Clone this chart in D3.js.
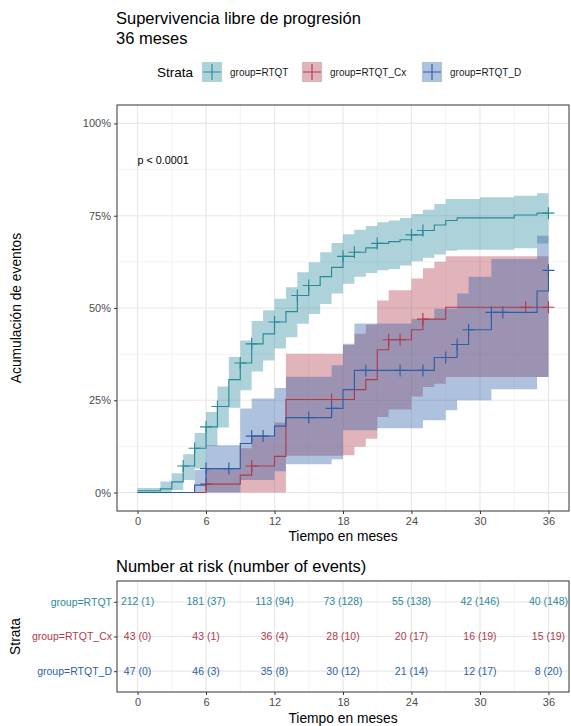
<!DOCTYPE html>
<html>
<head>
<meta charset="utf-8">
<script src="https://cdn.jsdelivr.net/npm/d3@7"></script>
<style>
  body { margin: 0; background: #fff; }
  svg { display: block; font-family: "Liberation Sans", Arial, sans-serif; }
</style>
</head>
<body>
<svg id="chart" width="571" height="726"></svg>
<script>
// ####################################################################################
// Data
var groups = ["group=RTQT", "group=RTQT_Cx", "group=RTQT_D"];
var groupColors = ["#2b8a9a", "#b03a4c", "#2d5fa6"];

// RTQT
var rtqtTime  = [0, 2, 3, 4, 5, 6, 7, 8, 9, 10, 11, 12, 13, 14, 15, 16, 17, 18, 19, 20, 21, 22, 23, 24, 25, 26, 27, 28, 30, 33, 35];
var rtqtEst   = [0.005, 0.01, 0.029, 0.072, 0.12, 0.178, 0.233, 0.306, 0.351, 0.403, 0.43, 0.462, 0.49, 0.534, 0.561, 0.585, 0.61, 0.64, 0.651, 0.663, 0.675, 0.68, 0.685, 0.698, 0.71, 0.725, 0.737, 0.744, 0.744, 0.752, 0.757];
var rtqtLower = [0, 0, 0.007, 0.034, 0.065, 0.126, 0.176, 0.23, 0.277, 0.328, 0.358, 0.39, 0.421, 0.457, 0.484, 0.511, 0.539, 0.566, 0.585, 0.595, 0.602, 0.606, 0.615, 0.627, 0.636, 0.645, 0.655, 0.658, 0.658, 0.662, 0.675];
var rtqtUpper = [0.012, 0.03, 0.052, 0.104, 0.161, 0.218, 0.287, 0.367, 0.412, 0.465, 0.494, 0.525, 0.556, 0.597, 0.624, 0.651, 0.676, 0.70, 0.712, 0.722, 0.732, 0.737, 0.744, 0.755, 0.766, 0.782, 0.795, 0.795, 0.80, 0.804, 0.811];
var rtqtCens  = [4, 5, 6, 7, 9, 10, 12, 14, 15, 18, 19, 21, 24, 25, 36];

// RTQT_Cx
var cxTime  = [0, 6, 9, 10, 12, 13, 18, 19, 20, 21, 22, 24, 25, 26, 27];
var cxEst   = [0, 0.023, 0.047, 0.072, 0.098, 0.252, 0.252, 0.279, 0.306, 0.387, 0.414, 0.441, 0.47, 0.47, 0.502];
var cxLower = [0, 0, 0, 0, 0, 0.10, 0.101, 0.124, 0.146, 0.205, 0.225, 0.26, 0.286, 0.295, 0.313];
var cxUpper = [0, 0.065, 0.12, 0.15, 0.19, 0.376, 0.40, 0.43, 0.455, 0.52, 0.548, 0.58, 0.608, 0.625, 0.64];
var cxCens  = [6, 10, 17, 22, 23, 25, 34, 36];

// RTQT_D
var dTime  = [0, 5, 6, 9, 10, 12, 13, 17, 18, 19, 21, 24, 25, 26, 27, 28, 29, 31, 35, 36];
var dEst   = [0, 0.02, 0.065, 0.133, 0.153, 0.18, 0.203, 0.228, 0.279, 0.331, 0.331, 0.331, 0.331, 0.366, 0.366, 0.401, 0.441, 0.488, 0.546, 0.602];
var dLower = [0, 0, 0, 0.034, 0.034, 0.058, 0.077, 0.09, 0.169, 0.169, 0.174, 0.174, 0.196, 0.196, 0.223, 0.25, 0.25, 0.28, 0.313, 0.313];
var dUpper = [0, 0.061, 0.128, 0.228, 0.255, 0.283, 0.314, 0.345, 0.403, 0.458, 0.458, 0.47, 0.47, 0.498, 0.498, 0.539, 0.585, 0.633, 0.696, 0.696];
var dCens  = [6, 8, 10, 11, 15, 17, 20, 23, 25, 27, 28, 29, 31, 32, 36];

// Risk table
var riskTimes = [0, 6, 12, 18, 24, 30, 36];
var riskRTQT  = ["212 (1)", "181 (37)", "113 (94)", "73 (128)", "55 (138)", "42 (146)", "40 (148)"];
var riskCx    = ["43 (0)", "43 (1)", "36 (4)", "28 (10)", "20 (17)", "16 (19)", "15 (19)"];
var riskD     = ["47 (0)", "46 (3)", "35 (8)", "30 (12)", "21 (14)", "12 (17)", "8 (20)"];

var xTicks = [0, 6, 12, 18, 24, 30, 36];
var xMinor = [3, 9, 15, 21, 27, 33];
var yTicks = [0, 0.25, 0.5, 0.75, 1];
var yMinor = [0.125, 0.375, 0.625, 0.875];
var tEnd = 36;

var series = [
  {time: rtqtTime, est: rtqtEst, lower: rtqtLower, upper: rtqtUpper, cens: rtqtCens},
  {time: cxTime,   est: cxEst,   lower: cxLower,   upper: cxUpper,   cens: cxCens},
  {time: dTime,    est: dEst,    lower: dLower,    upper: dUpper,    cens: dCens}
];

// ####################################################################################
// Layout
var svg = d3.select("#chart");
var P = {left: 117, right: 569, top: 105, bottom: 511};
var R = {left: 117, right: 569, top: 581, bottom: 692};

var xScale = d3.scaleLinear().domain([-1.8, 37.8]).range([P.left, P.right]);
var yScale = d3.scaleLinear().domain([-0.05, 1.05]).range([P.bottom, P.top]);

// ###########################################
// Titles + legend
svg.append("text").attr("x", 116).attr("y", 24).style("font-size", "16.5px").attr("fill", "#000")
  .text("Supervivencia libre de progresión");
svg.append("text").attr("x", 116).attr("y", 44).style("font-size", "16.5px").attr("fill", "#000")
  .text("36 meses");

var legY = 72;
svg.append("text").attr("x", 157).attr("y", legY).attr("dy", "0.35em")
  .style("font-size", "13.5px").text("Strata");
var legX = [202, 302, 422];
groups.forEach(function(g, i) {
  var lg = svg.append("g").attr("transform", "translate(" + legX[i] + "," + (legY - 10) + ")");
  lg.append("rect").attr("width", 20).attr("height", 20)
    .attr("fill", groupColors[i]).attr("fill-opacity", 0.38);
  lg.append("path").attr("d", "M1,10H19M10,2V18")
    .attr("stroke", groupColors[i]).attr("stroke-width", 1.1).attr("fill", "none");
  svg.append("text").attr("x", legX[i] + 28).attr("y", legY).attr("dy", "0.35em")
    .style("font-size", "10px").style("fill", "#1a1a1a").text(g);
});

// ###########################################
// Main panel grid
var plot = svg.append("g");
plot.selectAll("line.minx").data(xMinor).join("line")
  .attr("x1", d => xScale(d)).attr("x2", d => xScale(d))
  .attr("y1", P.top).attr("y2", P.bottom)
  .attr("stroke", "#f3f3f3").attr("stroke-width", 1);
plot.selectAll("line.miny").data(yMinor).join("line")
  .attr("y1", d => yScale(d)).attr("y2", d => yScale(d))
  .attr("x1", P.left).attr("x2", P.right)
  .attr("stroke", "#f3f3f3").attr("stroke-width", 1);
plot.selectAll("line.majx").data(xTicks).join("line")
  .attr("x1", d => xScale(d)).attr("x2", d => xScale(d))
  .attr("y1", P.top).attr("y2", P.bottom)
  .attr("stroke", "#e8e8e8").attr("stroke-width", 1.2);
plot.selectAll("line.majy").data(yTicks).join("line")
  .attr("y1", d => yScale(d)).attr("y2", d => yScale(d))
  .attr("x1", P.left).attr("x2", P.right)
  .attr("stroke", "#e8e8e8").attr("stroke-width", 1.2);

// ###########################################
// Ribbons, steps, censor marks
function stepPoints(s, key) {
  var pts = s.time.map((t, i) => ({t: t, v: s[key][i], lo: s.lower[i], hi: s.upper[i]}));
  var last = pts[pts.length - 1];
  if (last.t < tEnd) pts.push({t: tEnd, v: last.v, lo: last.lo, hi: last.hi});
  return pts;
}
function estAt(s, t) {
  var v = s.est[0];
  s.time.forEach((tt, i) => { if (tt <= t) v = s.est[i]; });
  return v;
}

var area = d3.area().curve(d3.curveStepAfter)
  .x(d => xScale(d.t)).y0(d => yScale(d.lo)).y1(d => yScale(d.hi));
var line = d3.line().curve(d3.curveStepAfter)
  .x(d => xScale(d.t)).y(d => yScale(d.v));

series.forEach(function(s, i) {
  plot.append("path").datum(stepPoints(s, "est"))
    .attr("d", area).attr("fill", groupColors[i]).attr("fill-opacity", 0.38);
});
series.forEach(function(s, i) {
  plot.append("path").datum(stepPoints(s, "est"))
    .attr("d", line).attr("fill", "none")
    .attr("stroke", groupColors[i]).attr("stroke-width", 1.15);
  plot.selectAll("path.cens" + i).data(s.cens).join("path")
    .attr("class", "cens" + i)
    .attr("d", t => {
      var cx = xScale(t), cy = yScale(estAt(s, t));
      return "M" + (cx - 6) + "," + cy + "H" + (cx + 6) + "M" + cx + "," + (cy - 6) + "V" + (cy + 6);
    })
    .attr("stroke", groupColors[i]).attr("stroke-width", 1.15).attr("fill", "none");
});

plot.append("text").attr("x", xScale(0)).attr("y", yScale(0.9)).attr("dy", "0.35em")
  .style("font-size", "10.8px").text("p < 0.0001");

// border
svg.append("rect").attr("x", P.left).attr("y", P.top)
  .attr("width", P.right - P.left).attr("height", P.bottom - P.top)
  .attr("fill", "none").attr("stroke", "#333").attr("stroke-width", 1);

// axes
var xAxis = svg.append("g").attr("transform", "translate(0," + P.bottom + ")")
  .call(d3.axisBottom(xScale).tickValues(xTicks).tickSize(3).tickPadding(3));
var yAxis = svg.append("g").attr("transform", "translate(" + P.left + ",0)")
  .call(d3.axisLeft(yScale).tickValues(yTicks).tickSize(3).tickPadding(3)
    .tickFormat(d => Math.round(d * 100) + "%"));
[xAxis, yAxis].forEach(function(a) {
  a.select(".domain").remove();
  a.selectAll("line").attr("stroke", "#333");
  a.selectAll("text").style("font-size", "11px").style("fill", "#4d4d4d")
    .style("font-family", "Liberation Sans, Arial, sans-serif");
});

svg.append("text").attr("x", (P.left + P.right) / 2).attr("y", 541)
  .attr("text-anchor", "middle").style("font-size", "13.8px").text("Tiempo en meses");
svg.append("text").attr("transform", "translate(21," + ((P.top + P.bottom) / 2) + ") rotate(-90)")
  .attr("text-anchor", "middle").style("font-size", "13.8px").text("Acumulación de eventos");

// ####################################################################################
// Risk table
svg.append("text").attr("x", 116).attr("y", 572).style("font-size", "16.5px")
  .text("Number at risk (number of events)");

var rowScale = d3.scalePoint().domain(groups).range([R.top, R.bottom]).padding(0.6);
var risk = svg.append("g");
risk.selectAll("line.rminx").data(xMinor).join("line")
  .attr("x1", d => xScale(d)).attr("x2", d => xScale(d))
  .attr("y1", R.top).attr("y2", R.bottom).attr("stroke", "#f3f3f3");
risk.selectAll("line.rmajx").data(xTicks).join("line")
  .attr("x1", d => xScale(d)).attr("x2", d => xScale(d))
  .attr("y1", R.top).attr("y2", R.bottom).attr("stroke", "#e8e8e8").attr("stroke-width", 1.2);
risk.selectAll("line.rmajy").data(groups).join("line")
  .attr("y1", d => rowScale(d)).attr("y2", d => rowScale(d))
  .attr("x1", R.left).attr("x2", R.right).attr("stroke", "#e8e8e8").attr("stroke-width", 1.2);

[riskRTQT, riskCx, riskD].forEach(function(vals, i) {
  risk.selectAll("text.r" + i).data(vals).join("text")
    .attr("class", "r" + i)
    .attr("x", (d, j) => xScale(riskTimes[j]))
    .attr("y", rowScale(groups[i])).attr("dy", "0.35em")
    .attr("text-anchor", "middle").style("font-size", "10.5px")
    .style("fill", groupColors[i]).text(d => d);
});

svg.append("rect").attr("x", R.left).attr("y", R.top)
  .attr("width", R.right - R.left).attr("height", R.bottom - R.top)
  .attr("fill", "none").attr("stroke", "#333").attr("stroke-width", 1);

var rxAxis = svg.append("g").attr("transform", "translate(0," + R.bottom + ")")
  .call(d3.axisBottom(xScale).tickValues(xTicks).tickSize(3).tickPadding(3));
var ryAxis = svg.append("g").attr("transform", "translate(" + R.left + ",0)")
  .call(d3.axisLeft(rowScale).tickSize(3).tickPadding(2));
[rxAxis, ryAxis].forEach(function(a) {
  a.select(".domain").remove();
  a.selectAll("line").attr("stroke", "#333");
  a.selectAll("text").style("font-size", "11px").style("fill", "#4d4d4d")
    .style("font-family", "Liberation Sans, Arial, sans-serif");
});
ryAxis.selectAll("text").style("font-size", "10.5px").style("fill", (d, i) => groupColors[i]);

svg.append("text").attr("x", (R.left + R.right) / 2).attr("y", 723)
  .attr("text-anchor", "middle").style("font-size", "13.8px").text("Tiempo en meses");
svg.append("text").attr("transform", "translate(20," + ((R.top + R.bottom) / 2) + ") rotate(-90)")
  .attr("text-anchor", "middle").style("font-size", "13.8px").text("Strata");
</script>
</body>
</html>
